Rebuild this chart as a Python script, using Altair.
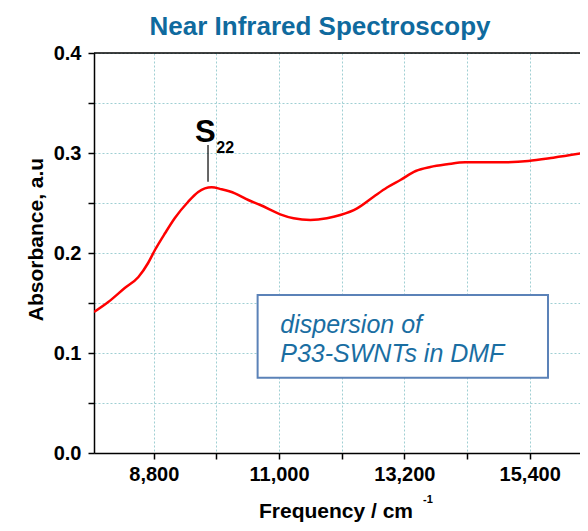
import altair as alt
import pandas as pd

# ---- data ----
freq = [7750, 8000, 8290, 8530, 8700, 8820, 9000, 9170, 9400, 9580, 9815, 9990,
        10225, 10460, 10670, 11020, 11255, 11550, 11840, 12075, 12370, 12660,
        12895, 13130, 13400, 13655, 13950, 14270, 14580, 14885, 15375, 15815, 16425]
absorb = [0.141, 0.151, 0.165, 0.176, 0.190, 0.203, 0.220, 0.235, 0.251, 0.261, 0.2657, 0.2637,
          0.2597, 0.253, 0.248, 0.2387, 0.2347, 0.233, 0.2347, 0.238, 0.2447, 0.2563,
          0.2655, 0.273, 0.282, 0.286, 0.2887, 0.2907, 0.2907, 0.2907, 0.292, 0.2953, 0.3007]

x_ticks = [8800, 9900, 11000, 12100, 13200, 14300, 15400]
y_ticks = [0.0, 0.05, 0.1, 0.15, 0.2, 0.25, 0.3, 0.35, 0.4]
x_domain = [7750, 16284]
y_domain = [0.0, 0.4]

title_text = "Near Infrared Spectroscopy"
x_title = "Frequency / cm"
x_title_sup = "-1"
y_title = "Absorbance, a.u"
peak_label = "S"
peak_sub = "22"
peak_line_x = [9752]
peak_line_y = [0.2713, 0.308]
peak_label_pos = [9704, 0.311]
peak_sub_pos = [9897, 0.300]
box_x = [10623, 15722]
box_y = [0.0753, 0.158]
box_lines = ["dispersion of", "P33-SWNTs in DMF"]
box_text_x = 11021
box_text_y = [0.120, 0.0913]

FONT = "Liberation Sans"
W, H = 486, 400

df = pd.DataFrame({"f": freq, "a": absorb})

xs = alt.Scale(domain=x_domain, nice=False, zero=False)
ys = alt.Scale(domain=y_domain, nice=False, zero=False)

x_axis = alt.Axis(
    values=x_ticks, title=None,
    labelExpr="datum.value % 2200 == 0 ? format(datum.value, ',') : ''",
    labelPadding=5,
)
y_axis = alt.Axis(
    values=y_ticks, title=y_title,
    labelExpr="round(datum.value * 100) % 10 == 0 ? format(datum.value, '.1f') : ''",
    labelPadding=7,
    titleFontSize=21, titleFont=FONT, titleFontWeight="bold", titleColor="black",
    titleAngle=270, titleX=-52, titleY=186, titleAlign="center", titleBaseline="alphabetic",
)

line = alt.Chart(df).mark_line(color="#ff0000", strokeWidth=2.5, interpolate="monotone",
                               clip=True).encode(
    x=alt.X("f:Q", scale=xs, axis=x_axis),
    y=alt.Y("a:Q", scale=ys, axis=y_axis),
)

top_border = alt.Chart(pd.DataFrame({"k": [0]})).mark_rule(color="black", strokeWidth=1.5).encode(
    x=alt.value(0), x2=alt.value(W), y=alt.value(0)
)

peak_df = pd.DataFrame({"x": peak_line_x, "y": [peak_line_y[0]], "y2": [peak_line_y[1]]})
peak_rule = alt.Chart(peak_df).mark_rule(color="black", strokeWidth=1.2).encode(
    x=alt.X("x:Q", scale=xs), y=alt.Y("y:Q", scale=ys), y2="y2:Q"
)

s_df = pd.DataFrame({"x": [peak_label_pos[0]], "y": [peak_label_pos[1]], "t": [peak_label]})
s_text = alt.Chart(s_df).mark_text(font=FONT, fontWeight="bold", fontSize=31, align="center",
                                   baseline="alphabetic", color="black").encode(
    x=alt.X("x:Q", scale=xs), y=alt.Y("y:Q", scale=ys), text="t:N"
)
sub_df = pd.DataFrame({"x": [peak_sub_pos[0]], "y": [peak_sub_pos[1]], "t": [peak_sub]})
sub_text = alt.Chart(sub_df).mark_text(font=FONT, fontWeight="bold", fontSize=16, align="left",
                                       baseline="alphabetic", color="black").encode(
    x=alt.X("x:Q", scale=xs), y=alt.Y("y:Q", scale=ys), text="t:N"
)

box_df = pd.DataFrame({"x": [box_x[0]], "x2": [box_x[1]], "y": [box_y[0]], "y2": [box_y[1]]})
box = alt.Chart(box_df).mark_rect(fill="white", stroke="#5b82b8", strokeWidth=2).encode(
    x=alt.X("x:Q", scale=xs), x2="x2:Q", y=alt.Y("y:Q", scale=ys), y2="y2:Q"
)
bt_df = pd.DataFrame({"x": [box_text_x] * 2, "y": box_text_y, "t": box_lines})
box_text = alt.Chart(bt_df).mark_text(font=FONT, fontStyle="italic", fontSize=25, align="left",
                                      baseline="alphabetic", color="#1a6ea2").encode(
    x=alt.X("x:Q", scale=xs), y=alt.Y("y:Q", scale=ys), text="t:N"
)

tt = alt.Chart(pd.DataFrame({"t": [title_text]})).mark_text(
    font=FONT, fontWeight="bold", fontSize=26, align="center", baseline="alphabetic",
    color="#0f6a9e").encode(x=alt.value(226), y=alt.value(-18), text="t:N")

xt = alt.Chart(pd.DataFrame({"t": [x_title]})).mark_text(
    font=FONT, fontWeight="bold", fontSize=21, align="center", baseline="alphabetic",
    color="black").encode(x=alt.value(242), y=alt.value(465), text="t:N")
xsup = alt.Chart(pd.DataFrame({"t": [x_title_sup]})).mark_text(
    font=FONT, fontWeight="bold", fontSize=11, align="left", baseline="alphabetic",
    color="black").encode(x=alt.value(329), y=alt.value(450), text="t:N")

chart = alt.layer(line, top_border, peak_rule, s_text, sub_text, box, box_text, tt, xt, xsup).properties(
    width=W, height=H,
    autosize=alt.AutoSizeParams(type="none"),
    padding={"left": 86, "top": 45, "right": 0, "bottom": 70},
).configure_view(stroke=None).configure_axis(
    domainColor="black", domainWidth=1.5, tickColor="black", tickWidth=1.5, tickSize=6,
    grid=True, gridColor="#9fcfd3", gridDash=[2, 2], gridWidth=1,
    labelFont=FONT, labelFontWeight="bold", labelFontSize=20, labelColor="black",
)

chart.save("out.html", embed_options={"renderer": "svg", "actions": False})
